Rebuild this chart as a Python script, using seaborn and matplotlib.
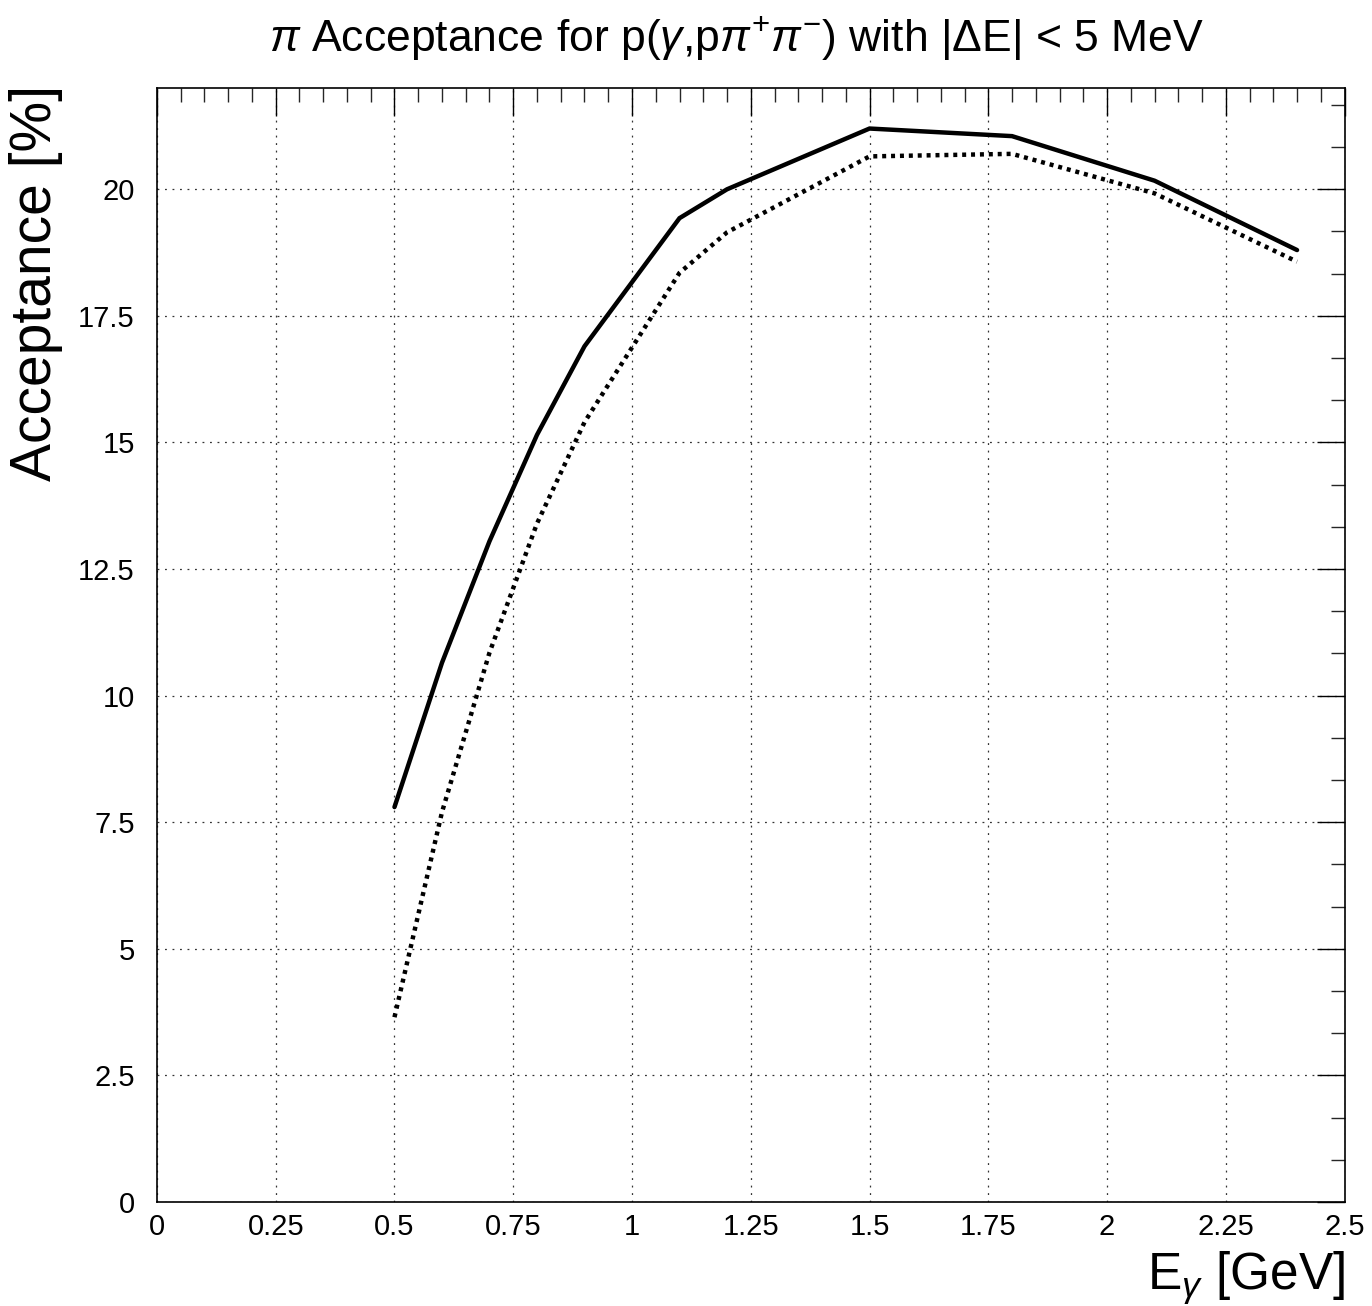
import numpy as np
import pandas as pd
import seaborn as sns
import matplotlib
matplotlib.use("Agg")
import matplotlib.pyplot as plt
from matplotlib.ticker import MultipleLocator, FixedLocator, FuncFormatter

# Data
energy = [0.5, 0.6, 0.7, 0.8, 0.9, 1.1, 1.2, 1.5, 1.8, 2.1, 2.4]
acc_solid = [7.8, 10.65, 13.05, 15.15, 16.9, 19.43, 20.0, 21.2, 21.05, 20.17, 18.8]
acc_dotted = [3.65, 7.7, 10.85, 13.4, 15.4, 18.35, 19.15, 20.65, 20.7, 19.92, 18.57]

x_ticks = [0, 0.25, 0.5, 0.75, 1, 1.25, 1.5, 1.75, 2, 2.25, 2.5]
y_ticks = [0, 2.5, 5, 7.5, 10, 12.5, 15, 17.5, 20]

title = r"$\pi$ Acceptance for p($\gamma$,p$\pi^{+}\pi^{-}$) with |$\Delta$E| < 5 MeV"
xlabel = r"E$_{\gamma}$ [GeV]"
ylabel = "Acceptance [%]"

sns.set_theme(style="white")
plt.rcParams["font.family"] = ["Liberation Sans", "DejaVu Sans"]
plt.rcParams["mathtext.fontset"] = "custom"
plt.rcParams["mathtext.rm"] = "Liberation Sans"
plt.rcParams["mathtext.it"] = "Liberation Sans:italic"
plt.rcParams["text.color"] = "black"

fig = plt.figure(figsize=(13.72, 13.06), dpi=100)
ax = fig.add_axes([0.1144, 0.0796, 0.8656, 0.853])

df_s = pd.DataFrame({"E": energy, "A": acc_solid})
df_d = pd.DataFrame({"E": energy, "A": acc_dotted})
sns.lineplot(data=df_s, x="E", y="A", ax=ax, color="black", lw=3.2,
             solid_joinstyle="miter", zorder=3)
sns.lineplot(data=df_d, x="E", y="A", ax=ax, color="black", lw=3.2,
             linestyle=(0, (0.9, 1.1)), zorder=3)

ax.set_xlim(0, 2.5)
ax.set_ylim(0, 22)
ax.xaxis.set_major_locator(FixedLocator(x_ticks))
ax.yaxis.set_major_locator(FixedLocator(y_ticks))
ax.xaxis.set_minor_locator(MultipleLocator(0.05))
ax.yaxis.set_minor_locator(MultipleLocator(2.5 / 3))
fmt = FuncFormatter(lambda v, p: f"{v:g}")
ax.xaxis.set_major_formatter(fmt)
ax.yaxis.set_major_formatter(fmt)

ax.tick_params(which="major", direction="in", length=20, width=1.0,
               top=True, right=True, labelsize=21, colors="black", pad=8)
ax.tick_params(which="minor", direction="in", length=10, width=1.0,
               top=True, right=True)
ax.tick_params(axis="y", which="major", pad=16)

ax.grid(True, which="major", color="#333333", lw=0.9, linestyle=(0, (1.5, 4.5)))
for s in ax.spines.values():
    s.set_color("black")
    s.set_linewidth(1.2)

ax.set_xlabel("")
ax.set_ylabel("")
fig.text(1345 / 1372, 1 - 1289 / 1306, xlabel, fontsize=37, ha="right",
         va="baseline", color="black")
fig.text(0.026, 1 - 85 / 1306, ylabel, fontsize=41, rotation=90, ha="center",
         va="top", color="black")
fig.text(0.537, 0.971, title, fontsize=32, ha="center", va="center", color="black")

fig.savefig("out.png", dpi=100, facecolor="white")
